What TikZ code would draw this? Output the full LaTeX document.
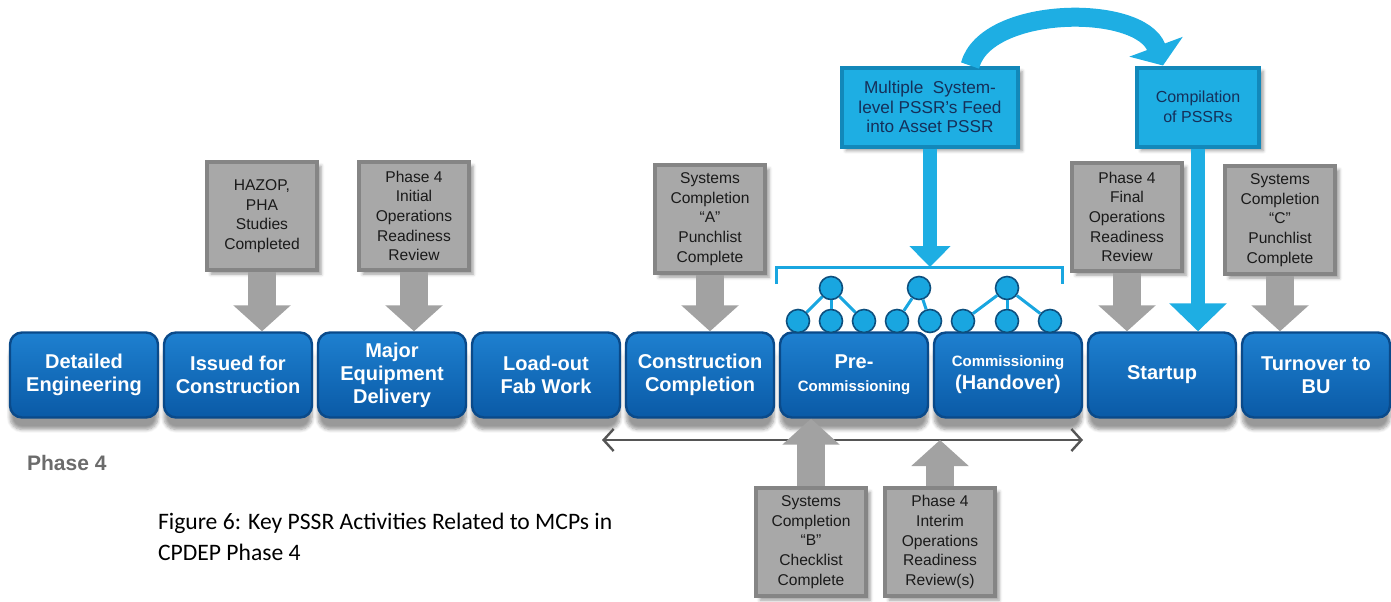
\documentclass[tikz,border=0pt]{standalone}
\usepackage{fontspec}
\setsansfont{Liberation Sans}
\newfontfamily\capfont{Carlito}
\usetikzlibrary{arrows.meta,shadows.blur}

\definecolor{stagetop}{HTML}{1E80D0}
\definecolor{stagebot}{HTML}{0A5AA6}
\definecolor{stageedge}{HTML}{0A4A8A}
\definecolor{notefill}{HTML}{A8A8A8}
\definecolor{noteedge}{HTML}{858585}
\definecolor{notetext}{HTML}{1A1A1A}
\definecolor{arrowgrey}{HTML}{A2A2A2}
\definecolor{feedfill}{HTML}{1EAEE3}
\definecolor{feededge}{HTML}{1288BA}
\definecolor{feedtext}{HTML}{15305A}
\definecolor{dotfill}{HTML}{19A6E0}
\definecolor{dotedge}{HTML}{0D4F7E}
\definecolor{spangrey}{HTML}{555555}
\definecolor{phasegrey}{HTML}{6B6B6B}

\newcommand{\smallcomm}{\fontsize{7.5}{11.5}\selectfont}

\tikzset{
  stage/.style={rounded corners=6pt, draw=stageedge, line width=1.2pt,
    top color=stagetop, bottom color=stagebot, minimum width=74pt,
    minimum height=42.5pt, inner sep=0pt, align=center, text=white,
    font=\sffamily\bfseries\fontsize{10}{11.5}\selectfont,
    blur shadow={shadow xshift=0pt, shadow yshift=-6pt, shadow blur steps=6}},
  note/.style={draw=noteedge, line width=2pt, fill=notefill,
    minimum width=55pt, minimum height=54pt, inner sep=1pt, align=center,
    text=notetext, font=\sffamily\fontsize{7.8}{9.8}\selectfont,
    blur shadow={shadow xshift=2pt, shadow yshift=-2pt, shadow blur steps=4}},
  feed/.style={draw=feededge, line width=2pt, fill=feedfill,
    minimum height=39.5pt, inner sep=1pt, align=center, text=feedtext,
    font=\sffamily\fontsize{8}{9.8}\selectfont,
    blur shadow={shadow xshift=2pt, shadow yshift=-2pt, shadow blur steps=4}},
  treedot/.style={circle, fill=dotfill, draw=dotedge, line width=0.8pt,
    minimum size=11.5pt, inner sep=0pt},
  twig/.style={draw=dotfill, line width=1.5pt},
  bracketline/.style={draw=dotfill, line width=1.5pt},
  notearrow/.style={draw=arrowgrey, line width=14pt, -{Triangle[width=28pt,length=13pt]}},
  feedarrow/.style={draw=feedfill, line width=7pt, -{Triangle[width=20pt,length=10.5pt]}},
  compilarrow/.style={draw=feedfill, line width=7pt, -{Triangle[width=28pt,length=14pt]}},
  bigcurve/.style={draw=feedfill, line width=9.5pt, -{Triangle[width=28pt,length=10pt]}},
  spanline/.style={draw=spangrey, line width=1.2pt, {Straight Barb[length=5pt,width=11pt]}-{Straight Barb[length=5pt,width=11pt]}}
}

\begin{document}
\begin{tikzpicture}[x=0.5pt,y=-0.5pt]
  \useasboundingbox (0,0) rectangle (1391,601);

  % stages along the bottom
  \node[stage] (deteng) at (84,375) {Detailed\\Engineering};
  \node[stage] (issued) at (238,375) {Issued for\\Construction};
  \node[stage] (major) at (392,375) {Major\\Equipment\\Delivery};
  \node[stage] (loadout) at (546,375) {Load-out\\Fab Work};
  \node[stage] (constr) at (700,375) {Construction\\Completion};
  \node[stage] (precomm) at (854,375) {Pre-\\{\smallcomm Commissioning}};
  \node[stage] (comm) at (1008,375) {{\smallcomm Commissioning}\\(Handover)};
  \node[stage] (startup) at (1162,375) {Startup};
  \node[stage] (turnover) at (1316,375) {Turnover to\\BU};

  \node[anchor=west, text=phasegrey, font=\sffamily\bfseries\fontsize{10.5}{12}\selectfont] (phase) at (20,463) {Phase 4};

  % grey callouts
  \node[note] (hazop) at (262,216) {HAZOP,\\PHA\\Studies\\Completed};
  \node[note] (initial) at (414,216) {Phase 4\\Initial\\Operations\\Readiness\\Review};
  \node[note] (sysa) at (710,219) {Systems\\Completion\\“A”\\Punchlist\\Complete};
  \node[note] (final) at (1127,217) {Phase 4\\Final\\Operations\\Readiness\\Review};
  \node[note] (sysc) at (1280,220) {Systems\\Completion\\“C”\\Punchlist\\Complete};
  \node[note] (sysb) at (811,542) {Systems\\Completion\\“B”\\Checklist\\Complete};
  \node[note] (interim) at (940,542) {Phase 4\\Interim\\Operations\\Readiness\\Review(s)};

  % PSSR boxes
  \node[feed, minimum width=88pt, font=\sffamily\fontsize{8.6}{9.8}\selectfont] (multi) at (930,107) {Multiple~ System-\\level PSSR’s Feed\\into Asset PSSR};
  \node[feed, minimum width=61pt] (compil) at (1198,107) {Compilation\\of PSSRs};

  % system trees
  \node[treedot] (top1) at (831,288) {};
  \node[treedot] (top2) at (919,288) {};
  \node[treedot] (top3) at (1007,288) {};
  \node[treedot] (leaf1) at (798,321) {};
  \node[treedot] (leaf2) at (831,321) {};
  \node[treedot] (leaf3) at (864,321) {};
  \node[treedot] (leaf4) at (897,321) {};
  \node[treedot] (leaf5) at (930,321) {};
  \node[treedot] (leaf6) at (963,321) {};
  \node[treedot] (leaf7) at (1007,321) {};
  \node[treedot] (leaf8) at (1050,321) {};
  \draw[twig] (top1) -- (leaf1);
  \draw[twig] (top1) -- (leaf2);
  \draw[twig] (top1) -- (leaf3);
  \draw[twig] (top2) -- (leaf4);
  \draw[twig] (top2) -- (leaf5);
  \draw[twig] (top3) -- (leaf6);
  \draw[twig] (top3) -- (leaf7);
  \draw[twig] (top3) -- (leaf8);

  \coordinate (brkL) at (776,284);
  \coordinate (brkM) at (930,267);
  \coordinate (brkR) at (1062,284);
  \draw[bracketline] (brkL) |- (brkM) -| (brkR);

  % arrows
  \draw[bigcurve] ([xshift=20pt]multi.north) .. controls +(8pt,30pt) and +(-11.5pt,31pt) .. ([xshift=-17.5pt]compil.north);
  \draw[feedarrow] (multi.south) -- (brkM);
  \draw[compilarrow] (compil.south) -- (compil.south |- startup.north);
  \draw[notearrow] (hazop.south) -- (hazop.south |- issued.north);
  \draw[notearrow] (initial.south) -- (initial.south |- major.north);
  \draw[notearrow] (sysa.south) -- (sysa.south |- constr.north);
  \draw[notearrow] (final.south) -- (final.south |- startup.north);
  \draw[notearrow] (sysc.south) -- (sysc.south |- turnover.north);

  \coordinate (spanL) at (602,440);
  \coordinate (spanR) at (1083,440);
  \draw[spanline] (spanL) -- (spanR);
  \draw[notearrow] (sysb.north) -- (sysb.north |- precomm.south);
  \draw[notearrow] (interim.north) -- (interim.north |- spanL);

  \node[anchor=west, align=left, font=\capfont\fontsize{11.8}{15.5}\selectfont] (caption) at (151,537) {Figure 6: Key PSSR Activities Related to MCPs in\\CPDEP Phase 4};
\end{tikzpicture}
\end{document}
